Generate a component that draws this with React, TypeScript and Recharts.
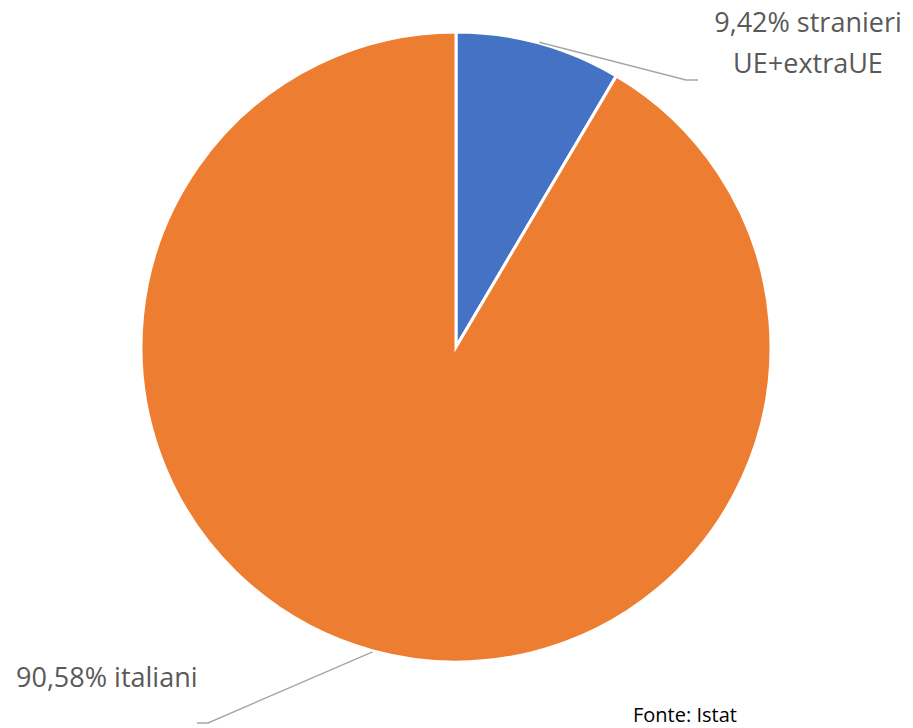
import { PieChart, Pie, Cell } from 'recharts';

const categories = ['stranieri UE+extraUE', 'italiani'];
// slice sizes as drawn in the picture (the blue wedge spans ~31 degrees)
const shares = [8.5, 91.5];
const labelLines = [
  ['9,42% stranieri', 'UE+extraUE'],
  ['90,58% italiani'],
];
const colors = ['#4472C4', '#ED7D31'];
const sourceNote = 'Fonte: Istat';

const data = categories.map((name, i) => ({ name, value: shares[i], lines: labelLines[i] }));

const RAD = Math.PI / 180;

// hand-placed labels, as in the original sheet (offsets from pie centre)
const LABEL_POS = [
  { elbow: [230, -267], end: 242, textX: 352, baseY: -315, anchor: 'middle' },
  { elbow: [-248, 376], end: -259, textX: -440, baseY: 340, anchor: 'start' },
];

function renderLabel(props: any) {
  const { cx, cy, midAngle, outerRadius, index, payload } = props;
  const pos = LABEL_POS[index];
  const sx = cx + (outerRadius + 1) * Math.cos(-midAngle * RAD);
  const sy = cy + (outerRadius + 1) * Math.sin(-midAngle * RAD);
  const ex = cx + pos.elbow[0];
  const ey = cy + pos.elbow[1];
  const lines: string[] = payload.lines;
  return (
    <g>
      <polyline
        points={`${sx},${sy} ${ex},${ey} ${cx + pos.end},${ey}`}
        fill="none"
        stroke="#A6A6A6"
        strokeWidth={1.4}
      />
      {lines.map((t, i) => (
        <text
          key={i}
          x={cx + pos.textX}
          y={cy + pos.baseY + i * 41}
          textAnchor={pos.anchor}
          fill="#595959"
          fontSize={27}
          fontFamily="'Open Sans', sans-serif"
        >
          {t}
        </text>
      ))}
    </g>
  );
}

export default function App() {
  return (
    <div style={{ width: 913, height: 728, background: '#fff', position: 'relative' }}>
      <style>{'body{margin:0}'}</style>
      <PieChart width={913} height={728} margin={{ top: 0, right: 0, bottom: 0, left: 0 }}>
        <Pie
          data={data}
          dataKey="value"
          nameKey="name"
          cx={456}
          cy={347}
          outerRadius={315}
          startAngle={90}
          endAngle={-270}
          stroke="#ffffff"
          strokeWidth={3}
          label={renderLabel}
          labelLine={false}
          isAnimationActive={false}
        >
          {data.map((d, i) => (
            <Cell key={d.name} fill={colors[i]} />
          ))}
        </Pie>
        <text
          x={633}
          y={722}
          fill="#000"
          fontSize={20}
          fontFamily="'Open Sans', sans-serif"
        >
          {sourceNote}
        </text>
      </PieChart>
    </div>
  );
}
